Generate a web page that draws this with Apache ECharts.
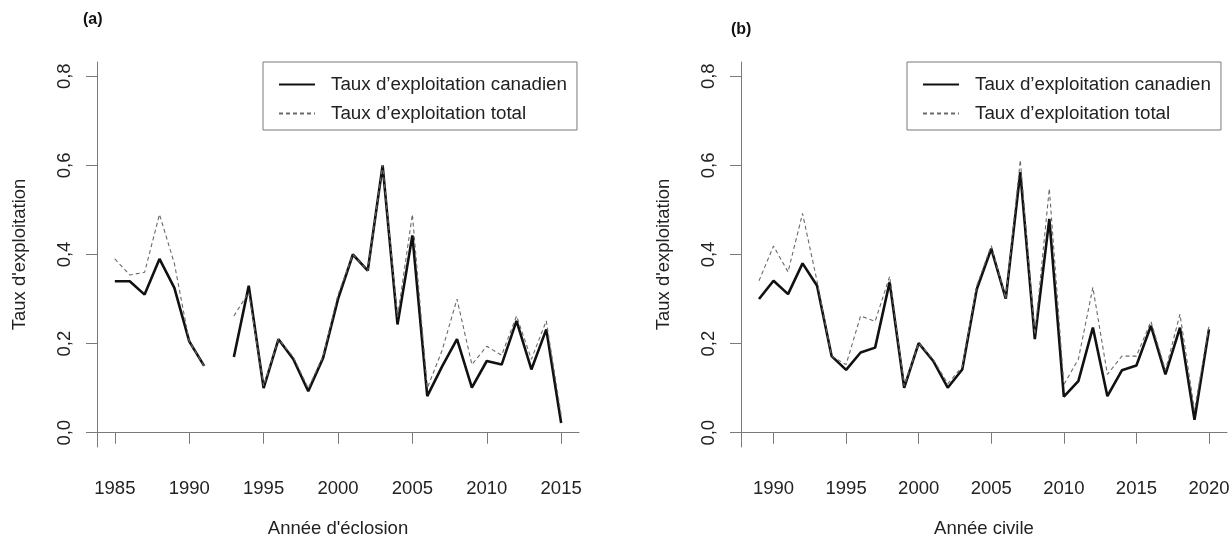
<!DOCTYPE html>
<html>
<head>
<meta charset="utf-8">
<script src="https://cdn.jsdelivr.net/npm/echarts@6/dist/echarts.min.js"></script>
<style>
    html, body { margin: 0; padding: 0; background: #fff; }
    #chart { width: 1232px; height: 538px; }
</style>
</head>
<body>
<div id="chart"></div>
<script>
    // (a) par année d'éclosion
    var yearsA = [1985, 1986, 1987, 1988, 1989, 1990, 1991, 1992, 1993, 1994, 1995, 1996, 1997, 1998, 1999, 2000,
        2001, 2002, 2003, 2004, 2005, 2006, 2007, 2008, 2009, 2010, 2011, 2012, 2013, 2014, 2015];
    var canadienA = [0.34, 0.34, 0.31, 0.39, 0.325, 0.205, 0.15, null, 0.17, 0.33, 0.10, 0.21, 0.165, 0.093, 0.168, 0.30,
        0.40, 0.364, 0.60, 0.243, 0.443, 0.082, 0.149, 0.21, 0.101, 0.161, 0.153, 0.251, 0.142, 0.232, 0.022];
    var totalA = [0.39, 0.354, 0.36, 0.49, 0.38, 0.205, 0.15, null, 0.262, 0.315, 0.105, 0.21, 0.17, 0.10, 0.172, 0.31,
        0.40, 0.364, 0.60, 0.26, 0.49, 0.10, 0.185, 0.30, 0.153, 0.194, 0.174, 0.262, 0.165, 0.251, 0.04];

    // (b) par année civile
    var yearsB = [1989, 1990, 1991, 1992, 1993, 1994, 1995, 1996, 1997, 1998, 1999, 2000, 2001, 2002, 2003, 2004,
        2005, 2006, 2007, 2008, 2009, 2010, 2011, 2012, 2013, 2014, 2015, 2016, 2017, 2018, 2019, 2020];
    var canadienB = [0.30, 0.341, 0.311, 0.38, 0.33, 0.172, 0.141, 0.18, 0.191, 0.338, 0.101, 0.201, 0.161, 0.101, 0.142, 0.322,
        0.413, 0.301, 0.585, 0.21, 0.48, 0.081, 0.116, 0.236, 0.082, 0.14, 0.151, 0.24, 0.131, 0.236, 0.029, 0.232];
    var totalB = [0.341, 0.419, 0.361, 0.492, 0.34, 0.172, 0.153, 0.262, 0.25, 0.351, 0.105, 0.201, 0.165, 0.11, 0.148, 0.33,
        0.42, 0.301, 0.612, 0.22, 0.548, 0.108, 0.165, 0.326, 0.131, 0.172, 0.172, 0.25, 0.14, 0.266, 0.05, 0.24];

    var ticksA = [1985, 1990, 1995, 2000, 2005, 2010, 2015];
    var ticksB = [1990, 1995, 2000, 2005, 2010, 2015, 2020];
    var ticksY = [0, 0.2, 0.4, 0.6, 0.8];

    var nameCan = 'Taux d\u2019exploitation canadien',
        nameTot = 'Taux d\u2019exploitation total';
    var font = '"Liberation Sans", Arial, sans-serif';
    var axisGrey = '#7a7a7a';

    var pairs = function (xs, ys) {
        return xs.map(function (x, i) { return [x, ys[i]]; });
    };

    var xAxisOf = function (idx, min, max, ticks, title) {
        return {
            type: 'value', gridIndex: idx, min: min, max: max,
            name: title, nameLocation: 'middle', nameGap: 72,
            nameTextStyle: { fontFamily: font, fontSize: 18.5, color: '#222' },
            axisLine: { show: true, lineStyle: { color: axisGrey, width: 1 } },
            axisTick: { show: true, length: 11, customValues: ticks, lineStyle: { color: axisGrey } },
            axisLabel: {
                customValues: ticks, margin: 32, fontFamily: font, fontSize: 18.5, color: '#222',
                formatter: function (v) { return String(v); }
            },
            splitLine: { show: false }
        };
    };
    var yAxisOf = function (idx) {
        return {
            type: 'value', gridIndex: idx, min: -0.032, max: 0.832,
            name: 'Taux d\'exploitation', nameLocation: 'middle', nameGap: 68, nameRotate: 90,
            nameTextStyle: { fontFamily: font, fontSize: 18.5, color: '#222' },
            axisLine: { show: true, lineStyle: { color: axisGrey, width: 1 } },
            axisTick: { show: true, length: 11, customValues: ticksY, lineStyle: { color: axisGrey } },
            axisLabel: {
                customValues: ticksY, rotate: 90, margin: 23, fontFamily: font, fontSize: 18.5, color: '#222',
                formatter: function (v) { return v.toFixed(1).replace('.', ','); }
            },
            splitLine: { show: false }
        };
    };
    // no round marker in the legend, only the line sample
    var legendOf = function (left) {
        return {
            data: [nameCan, nameTot], orient: 'vertical', left: left, top: 62,
            padding: [13, 10, 7, 15], itemWidth: 36, itemHeight: 18, itemGap: 10,
            borderColor: axisGrey, borderWidth: 1,
            itemStyle: { opacity: 0 },
            textStyle: { fontFamily: font, fontSize: 18.8, color: '#222', padding: [0, 0, 0, 11] }
        };
    };
    var lineOf = function (name, idx, data, solid) {
        return {
            name: name, type: 'line', xAxisIndex: idx, yAxisIndex: idx,
            data: data, symbol: 'none', connectNulls: false, silent: true,
            z: solid ? 3 : 4,
            lineStyle: solid ? { color: '#111', width: 2.6 } : { color: '#6a6a6a', width: 1.1, type: [4, 3] },
            itemStyle: { color: solid ? '#111' : '#6a6a6a' }
        };
    };

    var myChart = echarts.init(document.getElementById('chart'), null, { renderer: 'canvas' });
    myChart.setOption({
        backgroundColor: '#fff',
        animation: false,
        grid: [
            { left: 97, right: 653, top: 62, bottom: 91, containLabel: false, outerBoundsMode: 'none' },
            { left: 741, right: 5, top: 62, bottom: 91, containLabel: false, outerBoundsMode: 'none' }
        ],
        xAxis: [
            xAxisOf(0, 1983.8, 2016.2, ticksA, 'Ann\u00e9e d\'\u00e9closion'),
            xAxisOf(1, 1987.76, 2021.24, ticksB, 'Ann\u00e9e civile')
        ],
        yAxis: [yAxisOf(0), yAxisOf(1)],
        legend: [legendOf(263), legendOf(907)],
        graphic: [
            { type: 'text', left: 83, top: 12, style: { text: '(a)', font: 'bold 16px ' + font, fill: '#111' } },
            { type: 'text', left: 731, top: 22, style: { text: '(b)', font: 'bold 16px ' + font, fill: '#111' } }
        ],
        series: [
            lineOf(nameCan, 0, pairs(yearsA, canadienA), true),
            lineOf(nameTot, 0, pairs(yearsA, totalA), false),
            lineOf(nameCan, 1, pairs(yearsB, canadienB), true),
            lineOf(nameTot, 1, pairs(yearsB, totalB), false)
        ]
    });
</script>
</body>
</html>
